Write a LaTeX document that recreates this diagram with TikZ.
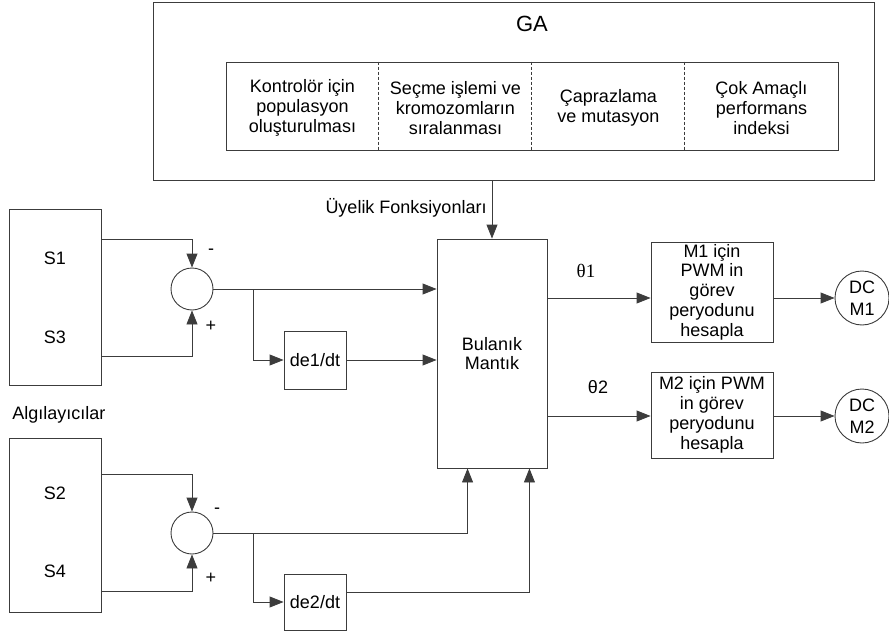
\documentclass[tikz,border=0pt]{standalone}
\usepackage{fontspec}
\setmainfont{Liberation Sans}
\newfontfamily\thetafont{Liberation Serif}
\usetikzlibrary{arrows.meta}
\definecolor{cline}{HTML}{3C3C3C}
\tikzset{
  every picture/.style={font=\fontsize{18}{19.8}\selectfont, line width=0.9pt},
  blk/.style={draw=cline, align=center, inner sep=2pt},
  sumnode/.style={draw=cline, circle, minimum size=42pt, inner sep=0pt},
  motor/.style={draw=cline, circle, minimum size=54pt, inner sep=0pt, align=center, font=\fontsize{18}{22}\selectfont},
  arr/.style={-{Triangle[length=14pt, width=11pt]}, draw=cline},
  wire/.style={draw=cline},
  divider/.style={draw=cline, line width=0.7pt, dash pattern=on 3pt off 2pt},
  lbl/.style={inner sep=1pt},
}

\begin{document}
\begin{tikzpicture}[x=1pt, y=-1pt]
  \useasboundingbox (0,0) rectangle (889,634);

  % GA block
  \node[blk, minimum width=721pt, minimum height=178pt] (ga) at (513.5,91) {};
  \node[lbl, font=\fontsize{22}{24}\selectfont] (gatitle) at (532,24) {GA};
  \node[blk, minimum width=612pt, minimum height=88pt] (garow) at (532,106) {};
  \foreach \i/\txt in {1/{Kontrolör için\\populasyon\\oluşturulması},
                       2/{Seçme işlemi ve\\kromozomların\\sıralanması},
                       3/{Çaprazlama\\ve mutasyon},
                       4/{Çok Amaçlı\\performans\\indeksi}}
    \node[lbl, align=center] (c\i) at ({149.5+153*\i},108) {\txt};
  \foreach \i in {1,2,3}
    \draw[divider] ([xshift={\i*153pt}]garow.north west) -- ([xshift={\i*153pt}]garow.south west);

  % sensors
  \node[blk, minimum width=92pt, minimum height=176pt] (sa) at (55,297) {};
  \node[blk, minimum width=92pt, minimum height=174pt] (sb) at (55,525) {};
  \node[lbl] (s1) at (55,258) {S1};
  \node[lbl] (s3) at (55,337) {S3};
  \node[lbl] (s2) at (55,493) {S2};
  \node[lbl] (s4) at (55,571) {S4};
  \node[lbl, anchor=west] (sens) at (11,415) {Algılayıcılar};
  \coordinate (s1out) at (101,239);
  \coordinate (s3out) at (101,356);
  \coordinate (s2out) at (101,474);
  \coordinate (s4out) at (101,591);

  % error and derivative
  \node[sumnode] (sum1) at (192,289) {};
  \node[sumnode] (sum2) at (192,533) {};
  \node[lbl] at (211,252) {-};
  \node[lbl] at (211,326) {+};
  \node[lbl] at (217,511) {-};
  \node[lbl] at (211,578) {+};
  \node[blk, minimum width=62pt, minimum height=58pt] (d1) at (315,360) {de1/dt};
  \node[blk, minimum width=62pt, minimum height=56pt] (d2) at (315,602) {de2/dt};
  \coordinate (br1) at (253,289);
  \coordinate (br2) at (253,533);

  % fuzzy logic and outputs
  \node[blk, minimum width=110pt, minimum height=229pt] (bm) at (492,353.5) {Bulanık\\Mantık};
  \node[lbl, anchor=east] (uf) at (488,208) {Üyelik Fonksiyonları};
  \node[blk, minimum width=122pt, minimum height=98pt] (m1) at (712,292) {M1 için\\PWM in\\görev\\peryodunu\\hesapla};
  \node[blk, minimum width=122pt, minimum height=86pt] (m2) at (712,415) {M2 için PWM\\in görev\\peryodunu\\hesapla};
  \node[motor] (dc1) at (862,298) {DC\\M1};
  \node[motor] (dc2) at (862,416) {DC\\M2};
  \node[lbl, font=\thetafont\fontsize{19}{20}\selectfont] (th1) at (586,271) {θ1};
  \node[lbl] (th2) at (598,387) {θ2};

  % connectors
  \draw[arr] (s1out) -| (sum1.north);
  \draw[arr] (s3out) -| (sum1.south);
  \draw[arr] (s2out) -| (sum2.north);
  \draw[arr] (s4out) -| (sum2.south);
  \draw[arr] (sum1.east) -- (bm.west |- sum1);
  \draw[arr] (br1) |- (d1.west);
  \draw[arr] (d1.east) -- (bm.west |- d1.east);
  \draw[arr] (sum2.east) -| ([xshift=31pt]bm.south west);
  \draw[arr] (br2) |- (d2.west);
  \draw[arr] ([yshift=10pt]d2.east) -| ([xshift=-18pt]bm.south east);
  \draw[arr] (ga.south -| bm.north) -- (bm.north);
  \draw[arr] (bm.east |- dc1) -- (m1.west |- dc1);
  \draw[arr] (m1.east |- dc1) -- (dc1);
  \draw[arr] (bm.east |- dc2) -- (m2.west |- dc2);
  \draw[arr] (m2.east |- dc2) -- (dc2);
\end{tikzpicture}
\end{document}
